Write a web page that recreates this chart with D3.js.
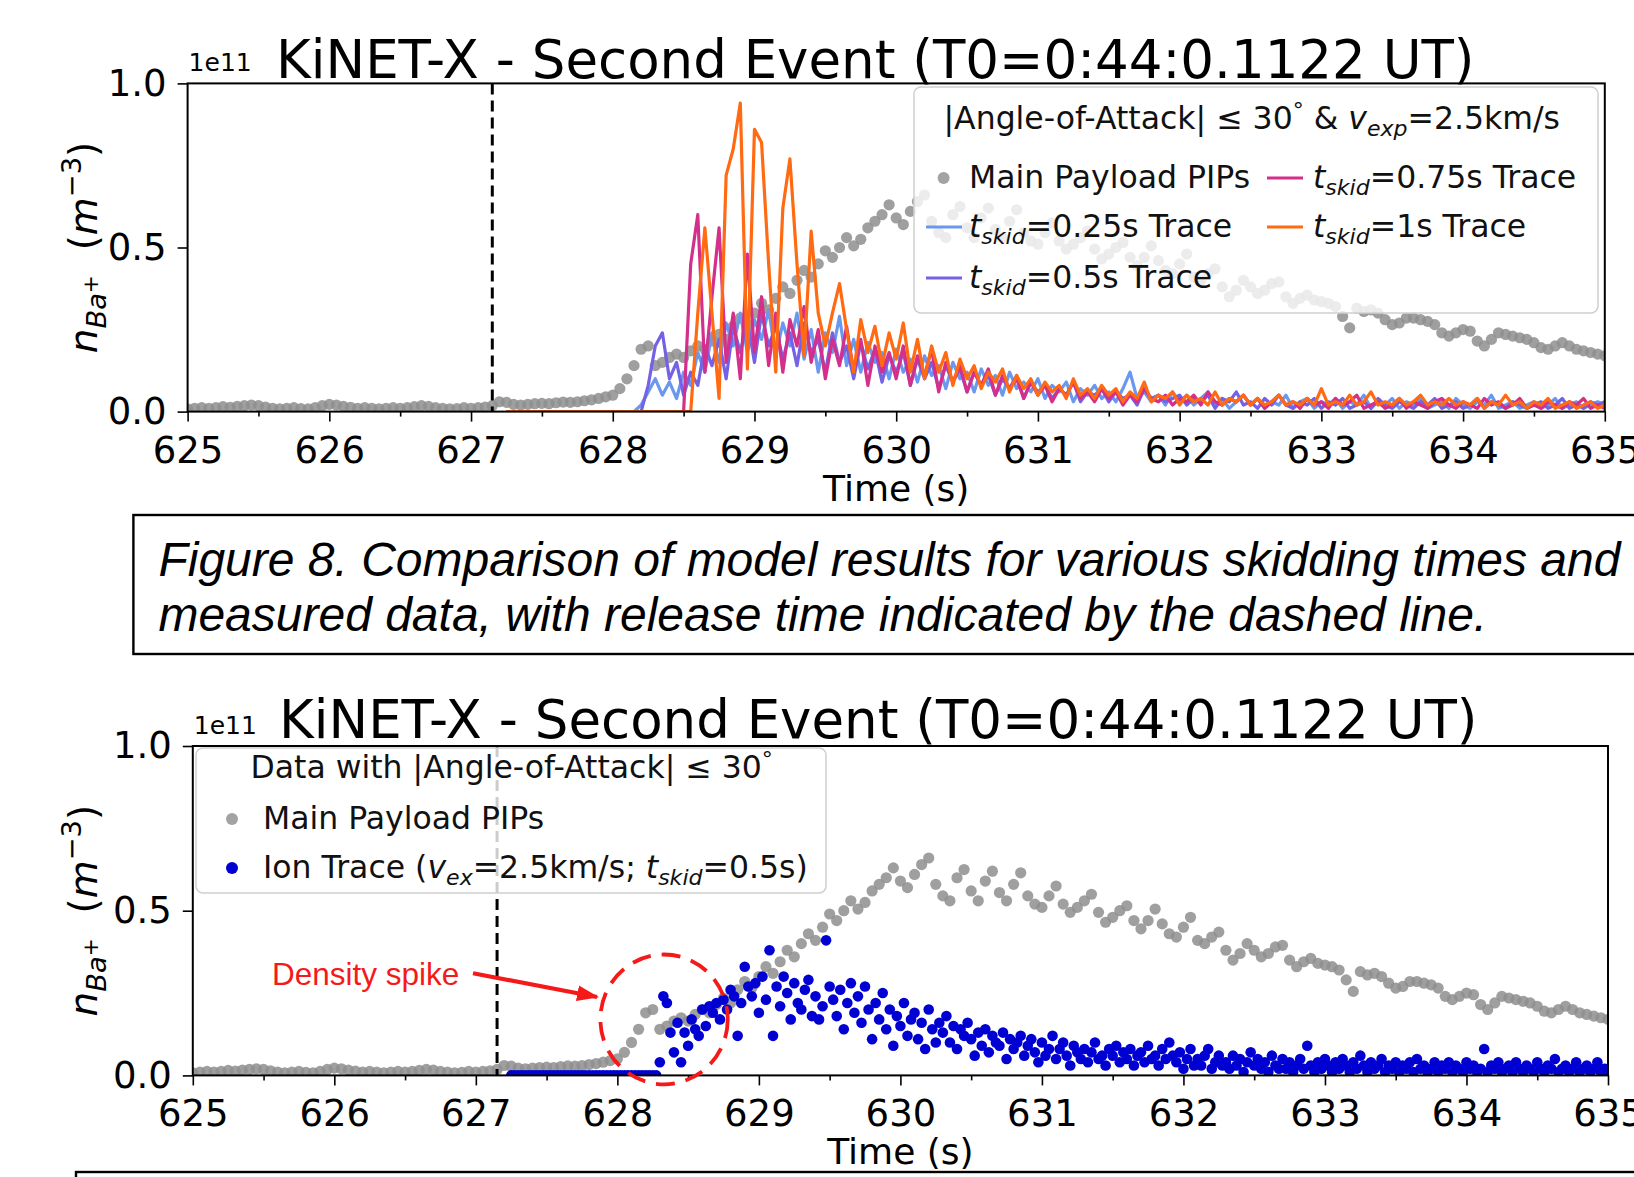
<!DOCTYPE html>
<html>
<head>
<meta charset="utf-8">
<script src="https://cdn.jsdelivr.net/npm/d3@7"></script>
<style>
  body { margin: 0; background: #fff; }
  text { white-space: pre; }
</style>
</head>
<body>
<svg id="chart"></svg>
<script>
// ---- data (densities in units of 1e11 m^-3, time in s) ----
const xTicks = [625, 626, 627, 628, 629, 630, 631, 632, 633, 634, 635]
const xMinorTicks = [625.5, 626.5, 627.5, 628.5, 629.5, 630.5, 631.5, 632.5, 633.5, 634.5]
const yTicks = [0, 0.5, 1]
const releaseTime = 627.15

// Main payload PIPs, sampled every 0.05 s from 625.00
const pipStart = 625
const pipStep = 0.05
const pipValues = [
  0.008, 0.010, 0.012, 0.010, 0.012, 0.015, 0.013, 0.016, 0.018, 0.020,
  0.018, 0.014, 0.010, 0.008, 0.010, 0.012, 0.009, 0.008, 0.012, 0.018,
  0.022, 0.020, 0.016, 0.013, 0.010, 0.012, 0.010, 0.008, 0.010, 0.012,
  0.010, 0.012, 0.015, 0.018, 0.016, 0.012, 0.010, 0.008, 0.009, 0.012,
  0.010, 0.012, 0.014, 0.018, 0.030, 0.028, 0.022, 0.020, 0.022, 0.024,
  0.025, 0.024, 0.027, 0.029, 0.028, 0.030, 0.033, 0.036, 0.040, 0.045,
  0.050, 0.070, 0.100, 0.140, 0.190, 0.200, 0.140, 0.150, 0.165, 0.175,
  0.165, 0.185, 0.200, 0.190, 0.215, 0.235, 0.220, 0.260, 0.285, 0.265,
  0.300, 0.330, 0.310, 0.345, 0.380, 0.360, 0.400, 0.430, 0.410, 0.450,
  0.490, 0.470, 0.500, 0.530, 0.505, 0.525, 0.560, 0.580, 0.600, 0.630,
  0.590, 0.570, 0.610, 0.640, 0.660, 0.580, 0.545, 0.530, 0.600, 0.625,
  0.560, 0.530, 0.590, 0.620, 0.555, 0.530, 0.580, 0.615, 0.545, 0.520,
  0.510, 0.545, 0.575, 0.520, 0.495, 0.510, 0.530, 0.550, 0.495, 0.465,
  0.480, 0.500, 0.515, 0.470, 0.445, 0.470, 0.505, 0.460, 0.430, 0.420,
  0.450, 0.480, 0.410, 0.400, 0.420, 0.435, 0.380, 0.350, 0.370, 0.400,
  0.380, 0.360, 0.370, 0.390, 0.395, 0.350, 0.330, 0.345, 0.355, 0.340,
  0.335, 0.330, 0.320, 0.290, 0.255, 0.315, 0.305, 0.310, 0.300, 0.280,
  0.265, 0.270, 0.285, 0.285, 0.280, 0.275, 0.265, 0.240, 0.230, 0.240,
  0.250, 0.245, 0.215, 0.200, 0.220, 0.240, 0.235, 0.230, 0.225, 0.220,
  0.210, 0.195, 0.190, 0.200, 0.210, 0.200, 0.190, 0.185, 0.180, 0.175,
  0.170
]

// Model traces for the skidding times, sampled every 0.05 s from 627.25
const traceStart = 627.25
const traceStep = 0.05
const trace025 = [
  0, 0, 0, 0, 0, 0, 0, 0, 0, 0, 0, 0, 0, 0, 0, 0, 0, 0, 0,
  0.02, 0.06, 0.10, 0.05, 0.09, 0.04,
  0.12, 0.08, 0.18, 0.12, 0.24, 0.15, 0.27, 0.20, 0.30, 0.18,
  0.28, 0.22, 0.31, 0.17, 0.27, 0.20, 0.30, 0.16, 0.25, 0.12,
  0.24, 0.18, 0.29, 0.14, 0.22, 0.12, 0.21, 0.15, 0.18, 0.10,
  0.19, 0.12, 0.16, 0.09, 0.17, 0.11, 0.14, 0.07, 0.15, 0.10,
  0.12, 0.06, 0.13, 0.08, 0.11, 0.05, 0.12, 0.07, 0.09, 0.06,
  0.10, 0.04, 0.08, 0.06, 0.09, 0.03, 0.07, 0.05, 0.08, 0.04,
  0.06, 0.03, 0.07, 0.12, 0.04, 0.06, 0.03, 0.05, 0.02, 0.06,
  0.03, 0.05, 0.02, 0.04, 0.06, 0.02, 0.04, 0.01, 0.03, 0.05,
  0.02, 0.04, 0.01, 0.03, 0.02, 0.05, 0.01, 0.03, 0.04, 0.01,
  0.03, 0.02, 0.04, 0.01, 0.03, 0.02, 0.05, 0.01, 0.03, 0.02,
  0.04, 0.01, 0.03, 0.02, 0.04, 0.01, 0.02, 0.03, 0.01, 0.04,
  0.02, 0.01, 0.03, 0.02, 0.05, 0.01, 0.02, 0.03, 0.01, 0.02,
  0.03, 0.01, 0.02, 0.04, 0.01, 0.02, 0.03, 0.01, 0.02, 0.03,
  0.02
]
const trace05 = [
  0, 0, 0, 0, 0, 0, 0, 0, 0, 0, 0, 0, 0, 0, 0, 0, 0, 0, 0, 0,
  0.08, 0.20, 0.24, 0.10, 0.15,
  0.05, 0.12, 0.08, 0.20, 0.14, 0.22, 0.10, 0.26, 0.18, 0.28,
  0.15, 0.30, 0.20, 0.26, 0.16, 0.24, 0.14, 0.27, 0.18, 0.22,
  0.12, 0.24, 0.15, 0.20, 0.10, 0.21, 0.13, 0.19, 0.09, 0.17,
  0.12, 0.18, 0.08, 0.16, 0.10, 0.15, 0.07, 0.14, 0.09, 0.13,
  0.06, 0.12, 0.08, 0.11, 0.05, 0.10, 0.07, 0.11, 0.04, 0.09,
  0.06, 0.08, 0.04, 0.07, 0.05, 0.09, 0.03, 0.06, 0.05, 0.07,
  0.03, 0.06, 0.04, 0.05, 0.02, 0.07, 0.04, 0.05, 0.03, 0.04,
  0.05, 0.02, 0.04, 0.03, 0.05, 0.01, 0.04, 0.03, 0.06, 0.02,
  0.03, 0.01, 0.04, 0.02, 0.05, 0.02, 0.01, 0.03, 0.02, 0.04,
  0.01, 0.03, 0.02, 0.04, 0.01, 0.02, 0.03, 0.01, 0.04, 0.02,
  0.01, 0.03, 0.02, 0.01, 0.03, 0.02, 0.04, 0.01, 0.02, 0.03,
  0.01, 0.02, 0.04, 0.01, 0.03, 0.02, 0.01, 0.03, 0.02, 0.01,
  0.02, 0.03, 0.01, 0.02, 0.04, 0.01, 0.02, 0.01, 0.03, 0.02,
  0.03
]
const trace075 = [
  0, 0, 0, 0, 0, 0, 0, 0, 0, 0, 0, 0, 0, 0, 0, 0, 0, 0, 0, 0, 0, 0, 0, 0, 0, 0,
  0.45, 0.60, 0.12, 0.35, 0.56, 0.15, 0.30, 0.10, 0.48,
  0.18, 0.35, 0.14, 0.30, 0.12, 0.28, 0.20, 0.32, 0.15, 0.25,
  0.10, 0.22, 0.14, 0.26, 0.12, 0.22, 0.08, 0.20, 0.12, 0.18,
  0.10, 0.20, 0.08, 0.17, 0.11, 0.19, 0.06, 0.15, 0.09, 0.14,
  0.06, 0.12, 0.08, 0.13, 0.05, 0.11, 0.07, 0.10, 0.04, 0.09,
  0.05, 0.08, 0.03, 0.07, 0.05, 0.09, 0.04, 0.06, 0.03, 0.07,
  0.04, 0.06, 0.02, 0.05, 0.03, 0.07, 0.04, 0.03, 0.05, 0.02,
  0.04, 0.03, 0.05, 0.02, 0.06, 0.03, 0.02, 0.04, 0.03, 0.05,
  0.02, 0.04, 0.01, 0.03, 0.05, 0.02, 0.03, 0.01, 0.04, 0.02,
  0.03, 0.01, 0.04, 0.02, 0.03, 0.05, 0.01, 0.02, 0.03, 0.01,
  0.02, 0.04, 0.01, 0.03, 0.02, 0.01, 0.03, 0.04, 0.02, 0.01,
  0.03, 0.02, 0.01, 0.04, 0.02, 0.03, 0.01, 0.02, 0.04, 0.01,
  0.02, 0.01, 0.03, 0.02, 0.01, 0.03, 0.02, 0.04, 0.01, 0.02,
  0.01
]
const trace1 = [
  0, 0, 0, 0, 0, 0, 0, 0, 0, 0, 0, 0, 0, 0, 0, 0, 0, 0, 0, 0, 0, 0, 0, 0, 0, 0, 0,
  0.30, 0.56, 0.30, 0.04, 0.72, 0.80, 0.94, 0.13,
  0.86, 0.82, 0.45, 0.12, 0.62, 0.77, 0.45, 0.17, 0.55, 0.30,
  0.20, 0.30, 0.39, 0.25, 0.12, 0.28, 0.18, 0.26, 0.14, 0.24,
  0.16, 0.27, 0.12, 0.22, 0.10, 0.20, 0.12, 0.18, 0.08, 0.16,
  0.10, 0.14, 0.07, 0.12, 0.09, 0.13, 0.06, 0.11, 0.07, 0.10,
  0.05, 0.09, 0.06, 0.08, 0.04, 0.10, 0.05, 0.07, 0.04, 0.08,
  0.05, 0.07, 0.03, 0.06, 0.04, 0.09, 0.03, 0.05, 0.04, 0.06,
  0.02, 0.05, 0.03, 0.04, 0.02, 0.06, 0.02, 0.04, 0.03, 0.05,
  0.02, 0.04, 0.02, 0.03, 0.05, 0.02, 0.03, 0.02, 0.04, 0.02,
  0.07, 0.02, 0.03, 0.02, 0.05, 0.02, 0.03, 0.06, 0.02, 0.03,
  0.02, 0.04, 0.02, 0.03, 0.05, 0.02, 0.03, 0.02, 0.04, 0.02,
  0.03, 0.02, 0.04, 0.01, 0.03, 0.02, 0.05, 0.02, 0.03, 0.01,
  0.03, 0.02, 0.04, 0.01, 0.02, 0.03, 0.01, 0.02, 0.03, 0.01,
  0.02
]
const traceNames = ['0.25s', '0.5s', '0.75s', '1s']
const traceColors = ['#6a98ee', '#7462e6', '#d42f8a', '#ff6a12']

// Ion trace (v_ex = 2.5 km/s, t_skid = 0.5 s), sampled every 0.025 s from 627.25
const ionStart = 627.25
const ionStep = 0.025
const ionValues = [
  0, 0, 0, 0, 0, 0, 0, 0, 0, 0, 0, 0, 0, 0, 0, 0, 0, 0, 0, 0, 0,
  0, 0, 0, 0, 0, 0, 0, 0, 0, 0, 0, 0, 0, 0, 0, 0, 0, 0, 0, 0, 0,
  0.04, 0.24, 0.22, 0.13, 0.07, 0.16, 0.04, 0.13,
  0.09, 0.17, 0.14, 0.12, 0.20, 0.15, 0.21, 0.19,
  0.22, 0.17, 0.23, 0.20, 0.26, 0.24, 0.12, 0.22,
  0.33, 0.27, 0.24, 0.28, 0.19, 0.30, 0.23, 0.38,
  0.12, 0.27, 0.21, 0.30, 0.25, 0.17, 0.28, 0.22,
  0.20, 0.26, 0.29, 0.18, 0.24, 0.17, 0.21, 0.41,
  0.27, 0.23, 0.18, 0.26, 0.14, 0.22, 0.28, 0.19,
  0.24, 0.16, 0.27, 0.20, 0.11, 0.22, 0.17, 0.25,
  0.14, 0.20, 0.09, 0.18, 0.15, 0.22, 0.12, 0.17,
  0.19, 0.11, 0.16, 0.08, 0.20, 0.14, 0.10, 0.16,
  0.13, 0.18, 0.10, 0.15, 0.08, 0.14, 0.12, 0.16,
  0.11, 0.06, 0.13, 0.09, 0.14, 0.07, 0.12, 0.10,
  0.09, 0.13, 0.05, 0.11, 0.08, 0.10, 0.12, 0.06,
  0.09, 0.11, 0.07, 0.04, 0.10, 0.06, 0.08, 0.12,
  0.05, 0.08, 0.10, 0.06, 0.03, 0.09, 0.07, 0.05,
  0.08, 0.04, 0.07, 0.10, 0.05, 0.06, 0.03, 0.08,
  0.06, 0.09, 0.04, 0.07, 0.05, 0.08, 0.03, 0.06,
  0.07, 0.04, 0.09, 0.05, 0.06, 0.03, 0.08, 0.05,
  0.10, 0.06, 0.04, 0.07, 0.02, 0.05, 0.08, 0.03,
  0.05, 0.03, 0.06, 0.08, 0.02, 0.04, 0.06, 0.03,
  0.04, 0.02, 0.06, 0.03, 0.05, 0.01, 0.04, 0.07,
  0.03, 0.05, 0.02, 0.04, 0.01, 0.06, 0.03, 0.02,
  0.05, 0.02, 0.04, 0.01, 0.03, 0.05, 0.02, 0.09,
  0.03, 0.01, 0.04, 0.02, 0.05, 0.03, 0.01, 0.04,
  0.02, 0.05, 0.03, 0.01, 0.04, 0.02, 0.06, 0.03,
  0.01, 0.04, 0.02, 0.03, 0.05, 0.01, 0.03, 0.02,
  0.04, 0.01, 0.03, 0.02, 0.04, 0.01, 0.05, 0.02,
  0.03, 0.01, 0.02, 0.04, 0.01, 0.03, 0.02, 0.04,
  0.01, 0.03, 0.02, 0.01, 0.04, 0.02, 0.03, 0.01,
  0.02, 0.08, 0.01, 0.03, 0.02, 0.04, 0.01, 0.02,
  0.03, 0.01, 0.04, 0.02, 0.01, 0.03, 0.02, 0.01,
  0.04, 0.02, 0.01, 0.03, 0.02, 0.05, 0.01, 0.02,
  0.03, 0.01, 0.02, 0.04, 0.01, 0.02, 0.03, 0.01,
  0.02, 0.04, 0.01, 0.02, 0.01
]

// annotation anchor points, in data units of the lower panel
const spikeCenter = [628.33, 0.17]
const spikeRadius = [0.45, 0.197]
const arrowFrom = [626.98, 0.31]
const arrowTo = [627.885, 0.235]
const spikeLabelAt = [625.56, 0.275]

// ---- drawing ----
const W = 1634
const H = 1177
const FONT = "'DejaVu Sans', sans-serif"
const CAPFONT = "'Liberation Sans', Arial, sans-serif"

const svg = d3.select('#chart').attr('width', W).attr('height', H)
svg.append('rect').attr('width', W).attr('height', H).attr('fill', '#fff')

const defs = svg.append('defs')
defs.append('marker')
  .attr('id', 'redhead')
  .attr('markerUnits', 'userSpaceOnUse')
  .attr('markerWidth', 22).attr('markerHeight', 16)
  .attr('refX', 20).attr('refY', 8)
  .attr('orient', 'auto')
  .append('path').attr('d', 'M0,0 L22,8 L0,16 Z').attr('fill', '#f41a1a')

/** Writes a mathtext-like label made of plain, italic, sub- and superscript parts. */
function rich (sel, parts, fs) {
  let cur = 0
  parts.forEach(function (p) {
    const off = (p.off || 0) * fs
    const ts = sel.append('tspan').text(p.t).attr('dy', off - cur)
    if (p.it) ts.attr('font-style', 'italic')
    if (p.s) ts.attr('font-size', fs * p.s)
    cur = off
  })
}

const skid = function (rest) {
  return [{ t: 't', it: true }, { t: 'skid', it: true, s: 0.7, off: 0.22 }, { t: rest }]
}

/** Sets up one panel: scales, clip area, and a layer for the data. */
function makePanel (box, id) {
  const x = d3.scaleLinear().domain([625, 635]).range([box.left, box.right])
  const y = d3.scaleLinear().domain([0, 1]).range([box.bottom, box.top])
  defs.append('clipPath').attr('id', id).append('rect')
    .attr('x', box.left).attr('y', box.top)
    .attr('width', box.right - box.left).attr('height', box.bottom - box.top)
  const data = svg.append('g').attr('clip-path', 'url(#' + id + ')')
  return { box: box, x: x, y: y, data: data }
}

/** Frame, ticks, labels, title and the release-time line. */
function decorate (p, title) {
  const b = p.box
  p.data.append('line')
    .attr('x1', p.x(releaseTime)).attr('x2', p.x(releaseTime))
    .attr('y1', b.top).attr('y2', b.bottom)
    .attr('stroke', '#000').attr('stroke-width', 3).attr('stroke-dasharray', '11,6')

  const ax = svg.append('g')
  ax.append('rect')
    .attr('x', b.left).attr('y', b.top)
    .attr('width', b.right - b.left).attr('height', b.bottom - b.top)
    .attr('fill', 'none').attr('stroke', '#000').attr('stroke-width', 2)

  const xa = ax.append('g').attr('transform', 'translate(0,' + b.bottom + ')')
    .call(d3.axisBottom(p.x).tickValues(xTicks).tickFormat(d3.format('d')).tickSize(10).tickSizeOuter(0))
  xa.selectAll('text').attr('dy', null).attr('y', 51)
  const xm = ax.append('g').attr('transform', 'translate(0,' + b.bottom + ')')
    .call(d3.axisBottom(p.x).tickValues(xMinorTicks).tickFormat('').tickSize(5).tickSizeOuter(0))
  const ya = ax.append('g').attr('transform', 'translate(' + b.left + ',0)')
    .call(d3.axisLeft(p.y).tickValues(yTicks).tickFormat(d3.format('.1f')).tickSize(10).tickPadding(11).tickSizeOuter(0))
  ;[xa, xm, ya].forEach(function (a) {
    a.select('.domain').remove()
    a.selectAll('line').attr('stroke', '#000').attr('stroke-width', 1.6)
    a.selectAll('text').attr('font-family', FONT).attr('font-size', 37).attr('fill', '#000')
  })

  ax.append('text')
    .attr('x', (b.left + b.right) / 2).attr('y', b.bottom + 89)
    .attr('text-anchor', 'middle').attr('font-family', FONT).attr('font-size', 36)
    .text('Time (s)')

  const yl = ax.append('text')
    .attr('transform', 'translate(97,' + (b.top + b.bottom) / 2 + ') rotate(-90)')
    .attr('text-anchor', 'middle').attr('font-family', FONT).attr('font-size', 39)
  rich(yl, [
    { t: 'n', it: true }, { t: 'Ba', it: true, s: 0.7, off: 0.22 }, { t: '+', s: 0.55, off: 0.02 },
    { t: '  (' }, { t: 'm', it: true }, { t: '\u22123', s: 0.7, off: -0.4 }, { t: ')' }
  ], 39)

  ax.append('text')
    .attr('x', b.left + 1).attr('y', b.top - 12)
    .attr('font-family', FONT).attr('font-size', 25)
    .text('1e11')
  ax.append('text')
    .attr('x', title.x).attr('y', title.y)
    .attr('font-family', FONT).attr('font-size', 53)
    .text('KiNET-X - Second Event (T0=0:44:0.1122 UT)')
}

/** Legend box drawn as matplotlib does: translucent white with a light rounded edge. */
function legendBox (x0, y0, w, h) {
  svg.append('rect')
    .attr('x', x0).attr('y', y0).attr('width', w).attr('height', h).attr('rx', 7)
    .attr('fill', '#fff').attr('fill-opacity', 0.8)
    .attr('stroke', '#cfcfcf').attr('stroke-width', 1.5)
}

function legendText (x0, y0, parts) {
  const t = svg.append('text').attr('x', x0).attr('y', y0)
    .attr('font-family', FONT).attr('font-size', 31.5).attr('fill', '#111')
  rich(t, parts, 31.5)
}

// ---------- upper panel ----------
const topPanel = makePanel({ left: 187.6, right: 1604.8, top: 83.4, bottom: 411.6 }, 'clipTop')

topPanel.data.selectAll('circle.pip').data(pipValues).enter().append('circle')
  .attr('class', 'pip')
  .attr('cx', function (d, i) { return topPanel.x(pipStart + i * pipStep) })
  .attr('cy', function (d) { return topPanel.y(d) })
  .attr('r', 5.6)
  .attr('fill', '#8e8e8e').attr('fill-opacity', 0.85)

const traceLine = d3.line()
  .x(function (d, i) { return topPanel.x(traceStart + i * traceStep) })
  .y(function (d) { return topPanel.y(d) })

;[trace025, trace05, trace075, trace1].forEach(function (s, k) {
  topPanel.data.append('path').datum(s)
    .attr('d', traceLine)
    .attr('fill', 'none')
    .attr('stroke', traceColors[k]).attr('stroke-width', 3.2)
    .attr('stroke-linejoin', 'round')
})

decorate(topPanel, { x: 276, y: 78 })

legendBox(914, 87, 684, 226)
legendText(943.5, 129, [{ t: '|Angle-of-Attack| \u2264 30' }, { t: '\u00b0', s: 0.7, off: -0.35 },
  { t: ' & ' }, { t: 'v', it: true }, { t: 'exp', it: true, s: 0.7, off: 0.22 }, { t: '=2.5km/s' }])

svg.append('circle').attr('cx', 943.6).attr('cy', 178).attr('r', 6).attr('fill', '#a3a3a3')
legendText(969, 188, [{ t: 'Main Payload PIPs' }])

const legendRows = [
  { k: 0, lx: 926, tx: 969, y: 237 },
  { k: 1, lx: 926, tx: 969, y: 288 },
  { k: 2, lx: 1267, tx: 1313, y: 188 },
  { k: 3, lx: 1267, tx: 1313, y: 237 }
]
legendRows.forEach(function (r) {
  svg.append('line')
    .attr('x1', r.lx).attr('x2', r.lx + 36)
    .attr('y1', r.y - 10).attr('y2', r.y - 10)
    .attr('stroke', traceColors[r.k]).attr('stroke-width', 3)
  legendText(r.tx, r.y, skid('=' + traceNames[r.k] + ' Trace'))
})

// ---------- caption box ----------
svg.append('rect')
  .attr('x', 133.4).attr('y', 515).attr('width', 1600).attr('height', 139)
  .attr('fill', 'none').attr('stroke', '#000').attr('stroke-width', 2.4)
svg.append('text').attr('x', 158.4).attr('y', 576)
  .attr('font-family', CAPFONT).attr('font-style', 'italic').attr('font-size', 48)
  .text('Figure 8. Comparison of model results for various skidding times and')
svg.append('text').attr('x', 158.4).attr('y', 630.5)
  .attr('font-family', CAPFONT).attr('font-style', 'italic').attr('font-size', 48)
  .text('measured data, with release time indicated by the dashed line.')

// ---------- lower panel ----------
const botPanel = makePanel({ left: 192.8, right: 1608, top: 746, bottom: 1075.4 }, 'clipBot')

botPanel.data.selectAll('circle.pip').data(pipValues).enter().append('circle')
  .attr('class', 'pip')
  .attr('cx', function (d, i) { return botPanel.x(pipStart + i * pipStep) })
  .attr('cy', function (d) { return botPanel.y(d) })
  .attr('r', 5.6)
  .attr('fill', '#8e8e8e').attr('fill-opacity', 0.85)

botPanel.data.selectAll('circle.ion').data(ionValues).enter().append('circle')
  .attr('class', 'ion')
  .attr('cx', function (d, i) { return botPanel.x(ionStart + i * ionStep) })
  .attr('cy', function (d) { return botPanel.y(d) })
  .attr('r', 5.3)
  .attr('fill', '#0000d2')

decorate(botPanel, { x: 279, y: 738 })

legendBox(196, 748, 630, 145)
legendText(250.5, 778, [{ t: 'Data with |Angle-of-Attack| \u2264 30' }, { t: '\u00b0', s: 0.7, off: -0.35 }])
svg.append('circle').attr('cx', 232).attr('cy', 819).attr('r', 6).attr('fill', '#a3a3a3')
legendText(263, 829, [{ t: 'Main Payload PIPs' }])
svg.append('circle').attr('cx', 232).attr('cy', 868).attr('r', 6).attr('fill', '#0000d2')
legendText(263, 878, [{ t: 'Ion Trace (' }, { t: 'v', it: true }, { t: 'ex', it: true, s: 0.7, off: 0.22 },
  { t: '=2.5km/s; ' }, { t: 't', it: true }, { t: 'skid', it: true, s: 0.7, off: 0.22 }, { t: '=0.5s)' }])

// density spike annotation
svg.append('ellipse')
  .attr('cx', botPanel.x(spikeCenter[0])).attr('cy', botPanel.y(spikeCenter[1]))
  .attr('rx', botPanel.x(spikeCenter[0] + spikeRadius[0]) - botPanel.x(spikeCenter[0]))
  .attr('ry', botPanel.y(0) - botPanel.y(spikeRadius[1]))
  .attr('fill', 'none').attr('stroke', '#f41a1a').attr('stroke-width', 3.8)
  .attr('stroke-dasharray', '19,11')
svg.append('line')
  .attr('x1', botPanel.x(arrowFrom[0])).attr('y1', botPanel.y(arrowFrom[1]))
  .attr('x2', botPanel.x(arrowTo[0]) - 4).attr('y2', botPanel.y(arrowTo[1]) - 1)
  .attr('stroke', '#f41a1a').attr('stroke-width', 4.2)
  .attr('marker-end', 'url(#redhead)')
svg.append('text')
  .attr('x', botPanel.x(spikeLabelAt[0])).attr('y', botPanel.y(spikeLabelAt[1]))
  .attr('font-family', CAPFONT).attr('font-size', 31.5).attr('fill', '#f41a1a')
  .text('Density spike')

// second caption box, only its top edge is in view
svg.append('rect')
  .attr('x', 76).attr('y', 1172).attr('width', 1600).attr('height', 100)
  .attr('fill', 'none').attr('stroke', '#000').attr('stroke-width', 2.4)
</script>
</body>
</html>
